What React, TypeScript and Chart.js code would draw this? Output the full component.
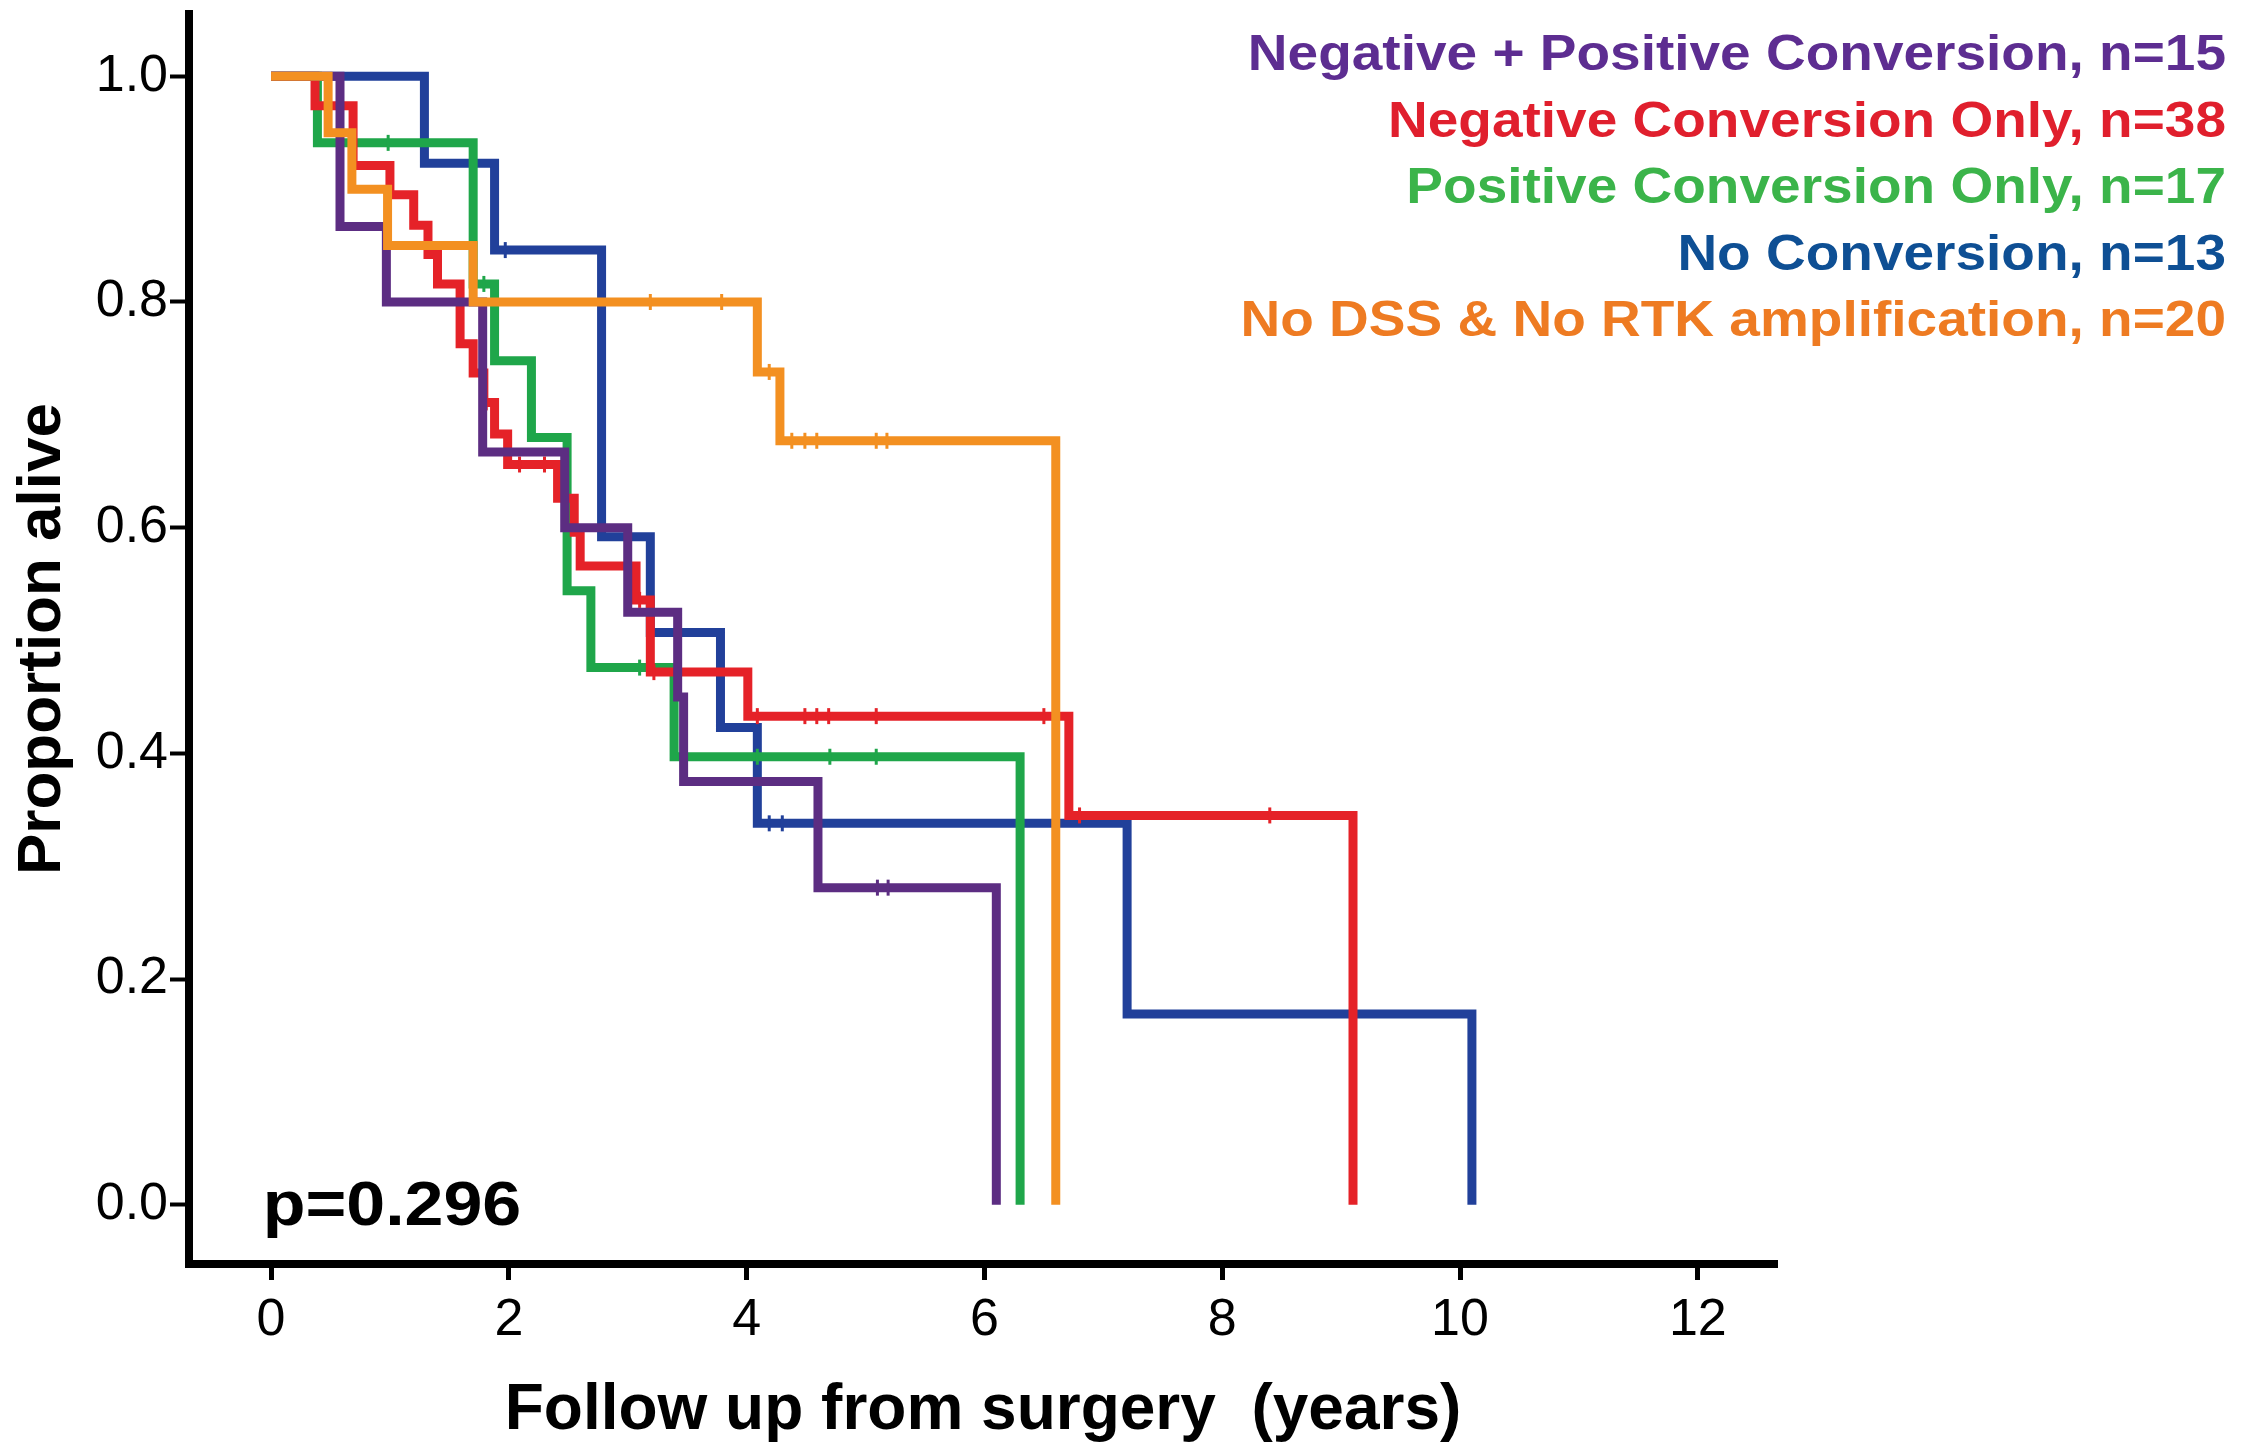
import React, { useEffect, useRef } from "react";
import { Chart, registerables } from "chart.js";

Chart.register(...registerables);

// ---------- data ----------
const X_TICKS = [0, 2, 4, 6, 8, 10, 12];
const Y_TICKS = [0, 0.2, 0.4, 0.6, 0.8, 1.0];

const GROUP_LABELS = [
  "Negative + Positive Conversion, n=15",
  "Negative Conversion Only, n=38",
  "Positive Conversion Only, n=17",
  "No Conversion, n=13",
  "No DSS & No RTK amplification, n=20",
];

// Negative + Positive Conversion (purple)
const NEGPOS_TIMES = [0, 0.58, 0.97, 1.78, 2.47, 3.0, 3.42, 3.47, 4.6, 6.1];
const NEGPOS_SURV = [1, 0.867, 0.8, 0.667, 0.6, 0.525, 0.45, 0.375, 0.281, 0];
const NEGPOS_CENSOR = [5.1, 5.19];

// Negative Conversion Only (red)
const NEG_TIMES = [0, 0.37, 0.69, 1.0, 1.2, 1.32, 1.4, 1.59, 1.7, 1.79, 1.88, 1.99, 2.41, 2.55, 2.6, 3.07, 3.19, 4.01, 6.71, 9.1];
const NEG_SURV = [1, 0.974, 0.921, 0.895, 0.868, 0.842, 0.816, 0.763, 0.737, 0.711, 0.683, 0.656, 0.626, 0.596, 0.566, 0.536, 0.472, 0.433, 0.345, 0];
const NEG_CENSOR = [1.81, 2.09, 2.3, 3.1, 3.22, 4.09, 4.49, 4.59, 4.69, 5.09, 6.5, 6.8, 8.4];

// Positive Conversion Only (green)
const POS_TIMES = [0, 0.39, 1.7, 1.88, 2.19, 2.49, 2.69, 3.39, 6.3];
const POS_SURV = [1, 0.941, 0.816, 0.748, 0.68, 0.544, 0.476, 0.397, 0];
const POS_CENSOR = [0.985, 1.79, 3.1, 4.09, 4.7, 5.09];

// No Conversion (blue)
const NOCONV_TIMES = [0, 1.29, 1.88, 2.78, 3.19, 3.78, 4.09, 7.2, 10.1];
const NOCONV_SURV = [1, 0.923, 0.846, 0.592, 0.507, 0.423, 0.338, 0.169, 0];
const NOCONV_CENSOR = [1.97, 4.19, 4.3];

// No DSS & No RTK amplification (orange)
const NODSS_TIMES = [0, 0.48, 0.68, 0.98, 1.7, 4.09, 4.28, 6.6];
const NODSS_SURV = [1, 0.95, 0.9, 0.85, 0.8, 0.738, 0.677, 0];
const NODSS_CENSOR = [3.19, 3.79, 4.19, 4.38, 4.49, 4.59, 5.09, 5.18];

const P_VALUE_TEXT = "p=0.296";

// ---------- styles ----------
const LINE_COLORS = ["#5C2D82", "#E52228", "#1FA64A", "#21409A", "#F39021"];
const TEXT_COLORS = ["#5D2D91", "#E01F2D", "#3BB44A", "#0E4F94", "#EE7B22"];
const DRAW_ORDER = [1, 2, 3, 4, 0]; // lower = drawn on top
const FONT = "'Liberation Sans', Arial, Helvetica, sans-serif";

const W = 2241;
const H = 1442;

function levelAt(times: number[], surv: number[], t: number) {
  let v = surv[0];
  for (let i = 0; i < times.length; i++) {
    if (times[i] <= t) v = surv[i];
  }
  return v;
}

const GROUPS = [
  { times: NEGPOS_TIMES, surv: NEGPOS_SURV, censor: NEGPOS_CENSOR },
  { times: NEG_TIMES, surv: NEG_SURV, censor: NEG_CENSOR },
  { times: POS_TIMES, surv: POS_SURV, censor: POS_CENSOR },
  { times: NOCONV_TIMES, surv: NOCONV_SURV, censor: NOCONV_CENSOR },
  { times: NODSS_TIMES, surv: NODSS_SURV, censor: NODSS_CENSOR },
];

function wideText(ctx: any, text: string, x: number, y: number, sx: number, align: CanvasTextAlign) {
  ctx.save();
  ctx.translate(x, y);
  ctx.scale(sx, 1);
  ctx.textAlign = align;
  ctx.textBaseline = "alphabetic";
  ctx.fillText(text, 0, 0);
  ctx.restore();
}

const textPlugin = {
  id: "kmText",
  afterDraw(chart: any) {
    const ctx = chart.ctx;
    ctx.save();
    // legend (coloured text, right aligned)
    ctx.font = `bold 50px ${FONT}`;
    GROUP_LABELS.forEach((label, i) => {
      ctx.fillStyle = TEXT_COLORS[i];
      wideText(ctx, label, 2226, 70 + i * 66.5, 1.1, "right");
    });
    // p-value
    const xs = chart.scales.x;
    const ys = chart.scales.y;
    ctx.font = `bold 63px ${FONT}`;
    ctx.fillStyle = "#000";
    wideText(ctx, P_VALUE_TEXT, xs.getPixelForValue(-0.07), ys.getPixelForValue(-0.0175), 1.11, "left");
    ctx.restore();
  },
};

export default function App() {
  const ref = useRef<HTMLCanvasElement | null>(null);

  useEffect(() => {
    document.body.style.margin = "0";
    const canvas = ref.current;
    if (!canvas) return;

    const lineSets = GROUPS.map((g, i) => ({
      type: "scatter" as const,
      label: GROUP_LABELS[i],
      data: g.times.map((t, k) => ({ x: t, y: g.surv[k] })),
      showLine: true,
      stepped: true,
      borderColor: LINE_COLORS[i],
      backgroundColor: LINE_COLORS[i],
      borderWidth: 9,
      pointRadius: 0,
      borderJoinStyle: "miter" as const,
      borderCapStyle: "butt" as const,
      order: DRAW_ORDER[i] * 2 + 1,
    }));
    const censorSets = GROUPS.map((g, i) => ({
      type: "scatter" as const,
      label: GROUP_LABELS[i] + " censored",
      data: g.censor.map((t) => ({ x: t, y: levelAt(g.times, g.surv, t) })),
      showLine: false,
      pointStyle: "line" as const,
      rotation: 90,
      pointRadius: 8,
      borderWidth: 3,
      borderColor: LINE_COLORS[i],
      backgroundColor: LINE_COLORS[i],
      order: DRAW_ORDER[i] * 2,
    }));

    const chart = new Chart(canvas, {
      type: "scatter",
      data: { datasets: [...lineSets, ...censorSets] as any },
      plugins: [textPlugin],
      options: {
        animation: false,
        responsive: false,
        devicePixelRatio: 1,
        events: [],
        layout: { padding: { top: 14, right: 464, left: 0, bottom: 0 } },
        plugins: { legend: { display: false }, tooltip: { enabled: false } },
        scales: {
          x: {
            type: "linear",
            min: -0.69,
            max: 12.666,
            afterBuildTicks: (scale: any) => {
              scale.ticks = X_TICKS.map((v) => ({ value: v }));
            },
            afterFit: (scale: any) => {
              scale.height = 178;
              scale.paddingLeft = 0;
              scale.paddingRight = 0;
            },
            ticks: {
              color: "#000",
              font: { family: FONT, size: 52 },
              padding: 9,
              maxRotation: 0,
              callback: (v: any) => String(v),
            },
            grid: {
              display: true,
              drawOnChartArea: false,
              drawTicks: true,
              tickLength: 16,
              tickWidth: 5,
              tickColor: "#000",
            },
            border: { display: true, width: 8, color: "#000" },
            title: {
              display: true,
              text: "Follow up from surgery  (years)",
              color: "#000",
              font: { family: FONT, size: 64, weight: "bold" },
              padding: { top: 0, bottom: -8 },
            },
          },
          y: {
            type: "linear",
            min: -0.0525,
            max: 1.0552,
            afterBuildTicks: (scale: any) => {
              scale.ticks = Y_TICKS.map((v) => ({ value: v }));
            },
            afterFit: (scale: any) => {
              scale.width = 189;
              scale.paddingTop = 0;
              scale.paddingBottom = 0;
            },
            ticks: {
              color: "#000",
              font: { family: FONT, size: 52 },
              padding: 2,
              callback: (v: any) => Number(v).toFixed(1),
            },
            grid: {
              display: true,
              drawOnChartArea: false,
              drawTicks: true,
              tickLength: 19,
              tickWidth: 4,
              tickColor: "#000",
            },
            border: { display: true, width: 8, color: "#000" },
            title: {
              display: true,
              text: "Proportion alive",
              color: "#000",
              font: { family: FONT, size: 62, weight: "bold" },
              padding: { top: 6, bottom: 0 },
            },
          },
        },
      } as any,
    });

    return () => chart.destroy();
  }, []);

  return (
    <div style={{ width: W, height: H, background: "#fff" }}>
      <canvas ref={ref} width={W} height={H} style={{ display: "block", width: W, height: H }} />
    </div>
  );
}
